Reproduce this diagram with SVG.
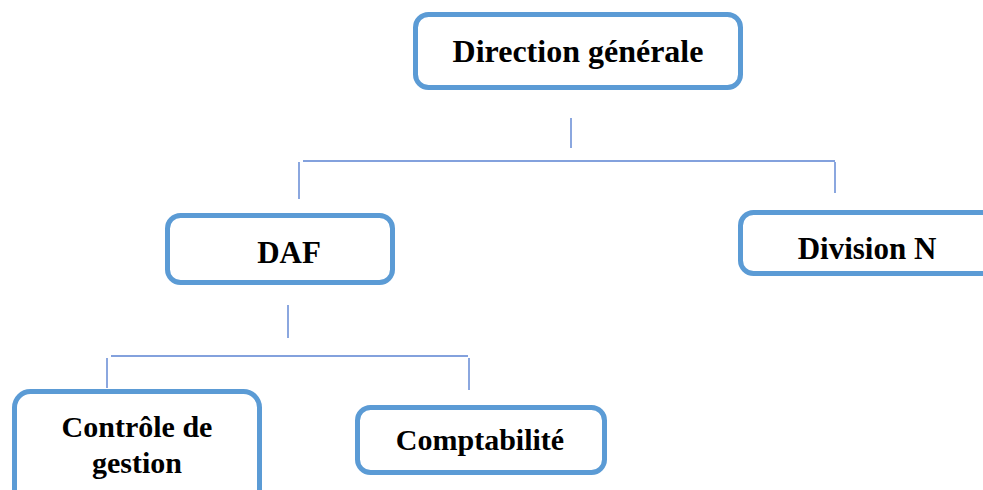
<svg xmlns="http://www.w3.org/2000/svg" width="983" height="490" viewBox="0 0 983 490">
<style>
.box{fill:#fff;stroke:#5B9BD5;stroke-width:5}
.lbl{font-family:"Liberation Serif","Times New Roman",serif;font-weight:bold;font-size:31px;fill:#000;text-anchor:middle}
.lg{font-size:32px}
.sm{font-size:30px}
.con line{stroke:#5A82D2;stroke-width:1.4}
</style>
<rect width="983" height="490" fill="#fff"/>
<g class="con" id="connectors">
<line x1="571" y1="118" x2="571" y2="148"/>
<line x1="303" y1="161" x2="835" y2="161"/>
<line x1="299" y1="162" x2="299" y2="199"/>
<line x1="835" y1="162" x2="835" y2="193"/>
<line x1="288" y1="305" x2="288" y2="338"/>
<line x1="111" y1="356" x2="468" y2="356"/>
<line x1="107" y1="358" x2="107" y2="388"/>
<line x1="469" y1="358" x2="469" y2="390"/>
</g>
<g id="direction-generale">
<rect class="box" x="415.5" y="14.5" width="325" height="73" rx="13"/>
<text class="lbl lg" x="578" y="62">Direction générale</text>
</g>
<g id="daf">
<rect class="box" x="167.5" y="215.5" width="225" height="67" rx="13"/>
<text class="lbl" x="289" y="263">DAF</text>
</g>
<g id="division-n">
<rect class="box" x="740.5" y="212.5" width="260" height="61" rx="13"/>
<text class="lbl" x="867" y="259">Division N</text>
</g>
<g id="controle-de-gestion">
<rect class="box" x="14.5" y="391.5" width="245" height="120" rx="16"/>
<text class="lbl sm" x="137" y="437">Contrôle de</text>
<text class="lbl sm" x="137" y="473">gestion</text>
</g>
<g id="comptabilite">
<rect class="box" x="357.5" y="407.5" width="247" height="65" rx="13"/>
<text class="lbl sm" x="480" y="450">Comptabilité</text>
</g>
</svg>
